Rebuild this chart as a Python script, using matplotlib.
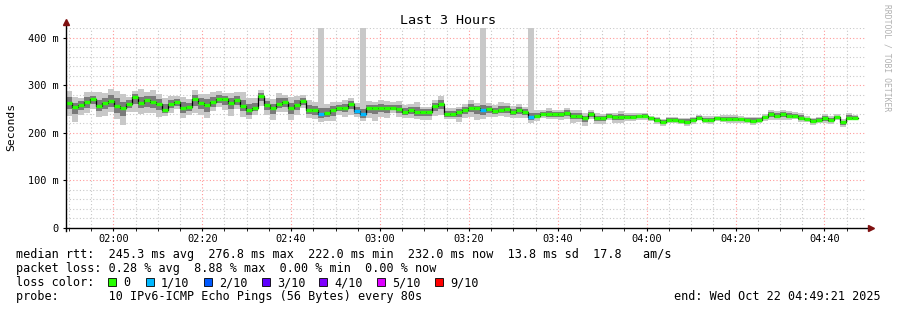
import numpy as np
import pandas as pd
import matplotlib
matplotlib.use("Agg")
import matplotlib.pyplot as plt
import matplotlib.dates as mdates
from matplotlib.patches import Rectangle
from matplotlib.ticker import MultipleLocator, FuncFormatter

# median rtt per 80s probe round (ms)
median_ms = [
    263, 255, 258, 265, 270, 257, 263, 267, 256, 253, 260, 276, 263, 269, 265, 261, 248, 261, 265, 252, 254, 270,
    262, 258, 265, 271, 271, 263, 269, 257, 248, 253, 276.8, 258, 251, 260, 264, 251, 258, 267, 248, 248, 239, 241,
    248, 253, 253, 261, 246, 240, 251, 253, 253, 251, 253, 250, 243, 248, 244, 243, 243, 256, 261, 240, 240, 243,
    248, 253, 251, 248, 250, 246, 248, 250, 244, 248, 243, 233, 236, 240, 240, 240, 239, 241, 236, 235, 230, 240, 230,
    230, 236, 233, 233, 233, 233, 235, 236, 230, 227, 223, 227, 227, 225, 223, 227, 232, 227, 227, 230, 229, 229,
    229, 229, 227, 225, 227, 233, 239, 236, 239, 236, 235, 232, 229, 225, 227, 230, 227, 233, 222, 232, 232,
]
# smoke: spread of the pings above / below the median (ms)
outer_hi = [
    24, 20, 16, 20, 16, 28, 20, 24, 32, 28, 16, 12, 28, 16, 24, 20, 24, 16, 12, 24, 16, 20,
    20, 24, 20, 16, 12, 20, 16, 28, 24, 20, 12, 16, 20, 24, 16, 24, 20, 12, 20, 16, 190, 20,
    16, 12, 16, 12, 16, 190, 16, 12, 16, 16, 12, 16, 16, 12, 20, 12, 12, 12, 16, 12, 12, 12,
    12, 16, 12, 190, 12, 12, 16, 12, 12, 12, 12, 190, 12, 8, 12, 8, 8, 12, 12, 12, 12, 8, 12,
    9, 6, 9, 12, 9, 9, 6, 6, 6, 6, 6, 6, 6, 6, 9, 6, 6, 9, 9, 6, 9, 9,
    9, 6, 6, 9, 6, 6, 9, 9, 9, 9, 9, 9, 6, 6, 6, 9, 9, 6, 6, 9, 6,
]
outer_lo = [
    28, 32, 20, 24, 20, 24, 28, 24, 28, 36, 16, 32, 24, 28, 24, 28, 12, 20, 16, 20, 16, 28,
    24, 28, 20, 16, 24, 28, 20, 24, 20, 16, 20, 20, 24, 16, 20, 24, 20, 16, 16, 20, 16, 16,
    24, 16, 20, 24, 12, 16, 20, 28, 20, 20, 12, 16, 12, 16, 16, 16, 16, 20, 24, 12, 12, 20,
    16, 20, 24, 20, 16, 12, 12, 16, 12, 16, 12, 12, 12, 8, 12, 12, 12, 12, 16, 12, 16, 12, 12,
    12, 9, 12, 12, 9, 9, 9, 9, 6, 9, 9, 6, 6, 6, 9, 9, 6, 6, 9, 6, 6, 9,
    9, 9, 6, 9, 6, 9, 12, 9, 12, 9, 6, 9, 6, 9, 6, 9, 9, 6, 9, 6, 6,
]
inner_hi = [
    12, 8, 8, 10, 8, 12, 10, 12, 16, 12, 8, 6, 12, 8, 12, 10, 12, 8, 6, 12, 8, 10,
    10, 12, 10, 8, 6, 10, 8, 12, 12, 10, 6, 8, 10, 12, 8, 12, 10, 6, 10, 8, 12, 10,
    8, 6, 8, 6, 8, 10, 8, 6, 8, 8, 6, 8, 8, 6, 10, 6, 6, 6, 8, 6, 6, 6,
    6, 8, 6, 10, 6, 6, 8, 6, 6, 6, 6, 8, 6, 4, 6, 4, 4, 6, 6, 6, 6, 4, 6,
    5, 3, 5, 6, 5, 5, 3, 3, 3, 3, 3, 3, 3, 3, 5, 3, 3, 5, 5, 3, 5, 5,
    5, 3, 3, 5, 3, 3, 5, 5, 5, 5, 5, 5, 3, 3, 3, 5, 5, 3, 3, 5, 3,
]
inner_lo = [
    14, 16, 10, 12, 10, 12, 14, 12, 14, 18, 8, 16, 12, 14, 12, 14, 6, 10, 8, 10, 8, 14,
    12, 14, 10, 8, 12, 14, 10, 12, 10, 8, 10, 10, 12, 8, 10, 12, 10, 8, 8, 10, 8, 8,
    12, 8, 10, 12, 6, 8, 10, 14, 10, 10, 6, 8, 6, 8, 8, 8, 8, 10, 12, 6, 6, 10,
    8, 10, 12, 10, 8, 6, 6, 8, 6, 8, 6, 6, 6, 4, 6, 6, 6, 6, 8, 6, 8, 6, 6,
    6, 5, 6, 6, 5, 5, 5, 5, 3, 5, 5, 3, 3, 3, 5, 5, 3, 3, 5, 3, 3, 5,
    5, 5, 3, 5, 3, 5, 6, 5, 6, 5, 3, 5, 3, 5, 3, 5, 5, 3, 5, 3, 3,
]
# rounds where 1 of 10 pings was lost
loss_rounds = [42, 48, 49, 69, 77]

loss_labels = ["0", "1/10", "2/10", "3/10", "4/10", "5/10", "9/10"]
loss_colors = ["#26ff00", "#00b8ff", "#0059ff", "#5e00ff", "#7e00ff", "#dd00ff", "#ff0000"]

stats_line1 = "median rtt:  245.3 ms avg  276.8 ms max  222.0 ms min  232.0 ms now  13.8 ms sd  17.8   am/s"
stats_line2 = "packet loss: 0.28 % avg  8.88 % max  0.00 % min  0.00 % now"
probe_line = "probe:       10 IPv6-ICMP Echo Pings (56 Bytes) every 80s"
end_line = "end: Wed Oct 22 04:49:21 2025"

t_start = pd.Timestamp("2025-10-22 01:49:21")
t_end = pd.Timestamp("2025-10-22 04:49:21")

W, H = 897, 310
MONO = "DejaVu Sans Mono"


def px(x, y):
    return x / W, 1 - y / H


med = np.array(median_ms, dtype=float)
n = len(med)
times = pd.date_range(t_start, periods=n + 1, freq="81s")
tx = mdates.date2num(times.to_pydatetime())
loss = np.zeros(n, dtype=int)
loss[loss_rounds] = 1


def ext(a):
    return np.append(a, a[-1])


fig = plt.figure(figsize=(W / 100, H / 100), dpi=100)
fig.patch.set_facecolor("white")
ax = fig.add_axes([66 / W, (H - 228) / H, 800 / W, 200 / H])

# smoke
ax.fill_between(tx, ext(med - np.array(outer_lo)), ext(med + np.array(outer_hi)),
                step="post", color="#c8c8c8", lw=0, zorder=2)
ax.fill_between(tx, ext(med - np.array(inner_lo)), ext(med + np.array(inner_hi)),
                step="post", color="#7a7a7a", lw=0, zorder=3)
# median
ax.step(tx, ext(med), where="post", color="black", lw=0.9, zorder=4)
ax.hlines(med, tx[:-1], tx[1:], colors=[loss_colors[k] for k in loss], lw=2.4, zorder=5)

ax.set_xlim(mdates.date2num(t_start), mdates.date2num(t_end))
ax.set_ylim(0, 420)

ax.xaxis.set_major_locator(mdates.MinuteLocator(byminute=[0, 20, 40]))
ax.xaxis.set_minor_locator(mdates.MinuteLocator(byminute=range(0, 60, 5)))
ax.xaxis.set_major_formatter(mdates.DateFormatter("%H:%M"))
ax.yaxis.set_major_locator(MultipleLocator(100))
ax.yaxis.set_minor_locator(MultipleLocator(20))
ax.yaxis.set_major_formatter(FuncFormatter(lambda v, p: "0" if v == 0 else f"{v:.0f} m"))

ax.set_axisbelow(True)
ax.grid(which="minor", color="#c8c8c8", linestyle=(0, (1, 2)), lw=0.8)
ax.grid(which="major", color="#ff9999", linestyle=(0, (1, 2)), lw=0.8)

for s in ax.spines.values():
    s.set_visible(False)
ax.plot([0, 0], [-0.015, 1.025], transform=ax.transAxes, color="black", lw=1, clip_on=False, zorder=6)
ax.plot([0, 1.003], [0, 0], transform=ax.transAxes, color="black", lw=1, clip_on=False, zorder=6)
ax.plot([0], [1.03], transform=ax.transAxes, marker="^", ms=4, color="#7f1010", clip_on=False, zorder=7)
ax.plot([1.006], [0], transform=ax.transAxes, marker=">", ms=4, color="#7f1010", clip_on=False, zorder=7)

ax.tick_params(which="both", direction="out", color="black", labelsize=7.4)
ax.tick_params(which="major", length=2.5, width=0.8)
ax.tick_params(axis="x", which="major", pad=1.5)
ax.tick_params(axis="y", which="major", pad=3)
ax.tick_params(which="minor", length=2, width=0.6)
ax.tick_params(axis="y", which="minor", length=0)
for lab in ax.get_xticklabels() + ax.get_yticklabels():
    lab.set_family(MONO)

fig.text(*px(11, 127), "Seconds", rotation=90, ha="center", va="center", family=MONO, fontsize=8.2)
fig.text(*px(448, 24), "Last 3 Hours", ha="center", va="baseline", family=MONO, fontsize=9.6)
fig.text(*px(887, 4), "RRDTOOL / TOBI OETIKER", rotation=-90, ha="center", va="top",
         family=MONO, fontsize=5.8, color="#b0b0b0")

fs = 8.5
fig.text(*px(16, 258), stats_line1, family=MONO, fontsize=fs, va="baseline")
fig.text(*px(16, 272), stats_line2, family=MONO, fontsize=fs, va="baseline")
fig.text(*px(16, 286), "loss color:", family=MONO, fontsize=fs, va="baseline")
box_x = [108, 146, 204, 262, 319, 377, 435]
for bx, lab, col in zip(box_x, loss_labels, loss_colors):
    fig.patches.append(Rectangle(px(bx, 286), 8 / W, 8 / H, transform=fig.transFigure,
                                 facecolor=col, edgecolor="black", lw=0.6))
    fig.text(*px(bx + 15, 286), lab, family=MONO, fontsize=fs, va="baseline")
fig.text(*px(16, 300), probe_line, family=MONO, fontsize=fs, va="baseline")
fig.text(*px(881, 300), end_line, family=MONO, fontsize=fs, va="baseline", ha="right")

fig.savefig("out.png", dpi=100, facecolor="white")
